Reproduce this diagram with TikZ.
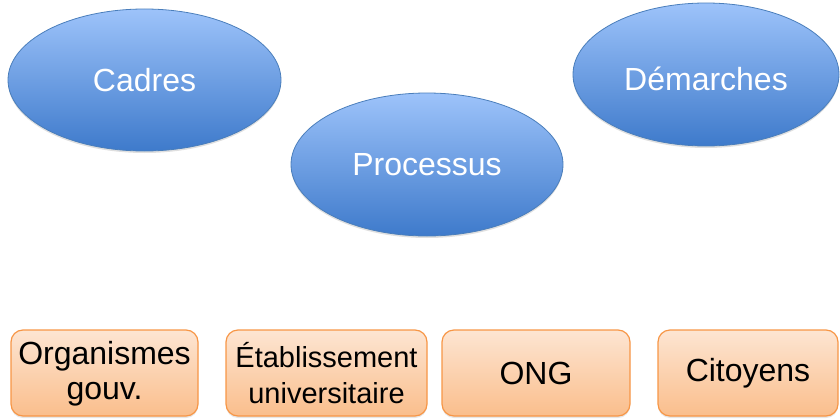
\documentclass[tikz,border=0pt]{standalone}
\usepackage{fontspec}
\setmainfont{Liberation Sans}
\usetikzlibrary{shapes.geometric,shadows}
\definecolor{blueTop}{RGB}{157,195,250}
\definecolor{blueBot}{RGB}{62,122,203}
\definecolor{blueLine}{RGB}{74,126,187}
\definecolor{orTop}{RGB}{253,229,210}
\definecolor{orBot}{RGB}{250,190,140}
\definecolor{orLine}{RGB}{247,150,70}
\tikzset{
  bubble/.style={ellipse, draw=blueLine, line width=0.8pt,
    top color=blueTop, bottom color=blueBot, text=white,
    inner sep=0pt, font=\fontsize{32}{37}\selectfont,
    drop shadow={opacity=0.25, shadow xshift=0pt, shadow yshift=-2pt}},
  actor/.style={rectangle, rounded corners=12pt, draw=orLine, line width=1.2pt,
    top color=orTop, bottom color=orBot, text=black, align=center,
    inner sep=0pt, minimum height=86pt, font=\fontsize{32}{37}\selectfont,
    drop shadow={opacity=0.2, shadow xshift=0pt, shadow yshift=-2pt}}
}
\begin{document}
\begin{tikzpicture}[x=1pt,y=-1pt]
\useasboundingbox (0,0) rectangle (840,420);
% concept bubbles
\node[bubble, minimum width=273pt, minimum height=142pt] (cadres) at (144.5,80) {Cadres};
\node[bubble, minimum width=272pt, minimum height=143pt] (processus) at (427,164.5) {Processus};
\node[bubble, minimum width=266pt, minimum height=143pt] (demarches) at (706,74.5) {\raisebox{-4pt}[\height][\depth]{Démarches}};
% actors
\node[actor, minimum width=187pt] (gouv) at (104.5,373) {\raisebox{-2pt}[\height][\depth]{Organismes}\\gouv.};
\node[actor, minimum width=201pt, font=\fontsize{29}{36}\selectfont] (univ) at (326.5,373) {Établissement\\universitaire};
\node[actor, minimum width=188pt] (ong) at (536,373) {ONG};
\node[actor, minimum width=180pt] (citoyens) at (748,373) {Citoyens};
\end{tikzpicture}
\end{document}
